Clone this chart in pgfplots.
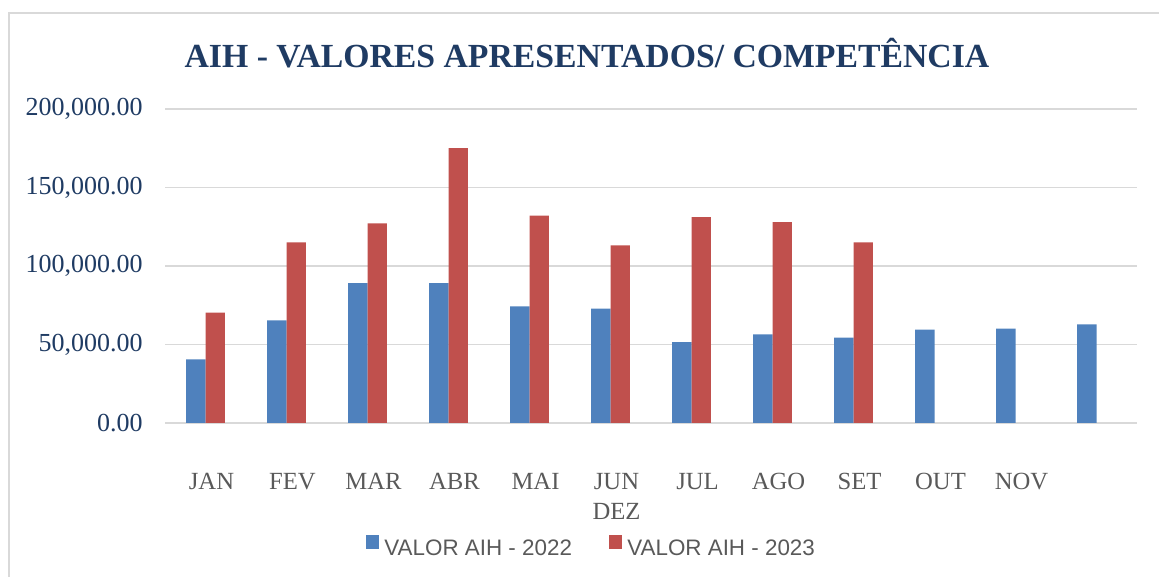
\documentclass[border=0pt]{standalone}
\usepackage{fontspec}
\setmainfont{Liberation Serif}
\newfontfamily\legfont{Liberation Sans}
\usepackage{pgfplots}
\pgfplotsset{compat=1.18}
\definecolor{bl}{HTML}{4F81BD}
\definecolor{rd}{HTML}{C0504D}
\definecolor{ttl}{HTML}{1F3B63}
\definecolor{lab}{HTML}{595959}
\definecolor{grd}{HTML}{D9D9D9}
\begin{document}
\begin{tikzpicture}
\path[use as bounding box] (0,0) rectangle (869.25pt,432.75pt);
\draw[grd, line width=1.2pt] (6.75pt,-10pt) -- (6.75pt,423pt) -- (880pt,423pt);
\node[anchor=base, text=ttl, font=\fontsize{25.3}{30}\selectfont\bfseries, inner sep=0pt] at (440.25pt,381.75pt) {AIH - VALORES APRESENTADOS/ COMPETÊNCIA};
\begin{axis}[
  at={(123.75pt,115.5pt)}, anchor=south west,
  scale only axis, width=729pt, height=235.5pt,
  ybar=0pt, bar width=14.6pt,
  xmin=-0.5, xmax=11.5, ymin=0, ymax=200000,
  xtick={0,...,11},
  xticklabels={JAN,FEV,MAR,ABR,MAI,{JUN\\DEZ},JUL,AGO,SET,OUT,NOV,{}},
  ytick={0,50000,100000,150000,200000},
  ymajorgrids, grid style={grd, line width=1.1pt},
  axis line style={draw=none}, major tick length=0pt,
  scaled y ticks=false,
  y tick label style={/pgf/number format/fixed, /pgf/number format/fixed zerofill,
    /pgf/number format/precision=2, /pgf/number format/1000 sep={,},
    /pgf/number format/assume math mode=true,
    anchor=east, inner sep=0pt, xshift=-16.5pt, text=ttl,
    font=\fontsize{19.5}{23}\selectfont},
  x tick label style={anchor=north, inner sep=0pt, yshift=-37.5pt, xshift=4.5pt,
    align=center, text=lab, font=\fontsize{18.5}{22.5}\selectfont},
  legend style={at={(0.4393,-0.3885)}, anchor=center, draw=none, fill=none,
    legend columns=2, font=\legfont\fontsize{16.8}{20}\selectfont, text=lab,
    /tikz/every even column/.append style={column sep=26pt}},
  legend image code/.code={\fill[#1] (0pt,0pt) rectangle (9.75pt,10pt);
    \path (11.5pt,14pt);},
]
\addplot[fill=bl, draw=none] coordinates {
  (0,40450) (1,65370) (2,89010) (3,89010) (4,74310) (5,72840)
  (6,51540) (7,56440) (8,54310) (9,59420) (10,60060) (11,62830)};
\addplot[fill=rd, draw=none] coordinates {
  (0,70290) (1,115020) (2,127160) (3,175080) (4,132010) (5,113100)
  (6,131200) (7,128010) (8,115020)};
\legend{VALOR AIH - 2022, VALOR AIH - 2023}
\end{axis}
\end{tikzpicture}
\end{document}
